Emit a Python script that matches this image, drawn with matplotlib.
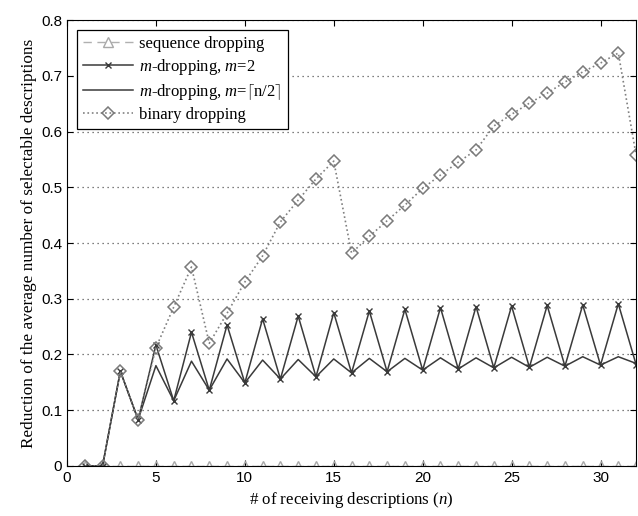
import numpy as np
import matplotlib.pyplot as plt

# ----------------------------------------------------
# Data
# ----------------------------------------------------
n = np.arange(1, 33)

seq_drop = [0.0] * 32

m2_drop = [0.0, 0.0, 0.170, 0.083, 0.217, 0.117, 0.240, 0.136, 0.253, 0.149,
           0.264, 0.156, 0.269, 0.160, 0.275, 0.167, 0.278, 0.169, 0.281, 0.172,
           0.284, 0.174, 0.286, 0.176, 0.287, 0.177, 0.288, 0.179, 0.289, 0.181,
           0.291, 0.182]

mhalf_drop = [0.0, 0.0, 0.170, 0.083, 0.180, 0.117, 0.188, 0.136, 0.192, 0.149,
              0.190, 0.156, 0.191, 0.160, 0.192, 0.167, 0.193, 0.169, 0.193, 0.172,
              0.194, 0.174, 0.194, 0.176, 0.195, 0.177, 0.195, 0.179, 0.196, 0.181,
              0.196, 0.184]

binary_drop = [0.0, 0.0, 0.170, 0.083, 0.212, 0.285, 0.357, 0.220, 0.274, 0.330,
               0.377, 0.438, 0.477, 0.515, 0.547, 0.382, 0.412, 0.440, 0.468, 0.498,
               0.522, 0.545, 0.567, 0.610, 0.631, 0.651, 0.669, 0.689, 0.707, 0.723,
               0.741, 0.558]

# ----------------------------------------------------
# Plot
# ----------------------------------------------------
plt.rcParams["mathtext.fontset"] = "custom"
plt.rcParams["mathtext.rm"] = "Liberation Serif"
plt.rcParams["mathtext.it"] = "Liberation Serif:italic"

fig = plt.figure(figsize=(6.38, 5.16), dpi=100)
ax = fig.add_axes([0.105, 0.097, 0.892, 0.864])

ax.plot(n, seq_drop, linestyle=(0, (6, 4)), color="#b0b0b0", lw=1.0,
        marker="^", markersize=7, markerfacecolor="none", markeredgecolor="#a8a8a8",
        label="sequence dropping")
ax.plot(n, m2_drop, "-", color="#3a3a3a", lw=1.1, marker="x", markersize=4.5,
        label=r"$m$-dropping, $m$=2")
ax.plot(n, mhalf_drop, "-", color="#3a3a3a", lw=1.1,
        label=r"$m$-dropping, $m$=$\lceil$n/2$\rceil$")
ax.plot(n, binary_drop, ":", color="#808080", lw=1.2, marker="D", markersize=6,
        markerfacecolor="none", markeredgecolor="#7a7a7a", markeredgewidth=1.1,
        label="binary dropping")

ax.set_xlim(0, 32)
ax.set_ylim(0, 0.8)
ax.set_xticks([0, 5, 10, 15, 20, 25, 30])
ax.set_yticks(np.arange(0, 0.81, 0.1))
ax.set_yticklabels(["0", "0.1", "0.2", "0.3", "0.4", "0.5", "0.6", "0.7", "0.8"])
ax.yaxis.grid(True, linestyle=(0, (1, 3)), color="#555555", lw=0.9)
ax.tick_params(direction="in", top=True, right=True, labelsize=11, length=4)
for lab in ax.get_xticklabels() + ax.get_yticklabels():
    lab.set_fontfamily("Liberation Sans")

ax.set_xlabel(r"# of receiving descriptions ($n$)", family="Liberation Serif", fontsize=12.2)
ax.set_ylabel("Reduction of the average number of selectable descriptions",
              family="Liberation Serif", fontsize=12.4, labelpad=3)

leg = ax.legend(loc="upper left", prop={"family": "Liberation Serif", "size": 12},
                fancybox=False, edgecolor="black", framealpha=1, handlelength=3.0,
                borderaxespad=0.6, labelspacing=0.3, handletextpad=0.4,
                borderpad=0.35)
leg.get_frame().set_linewidth(0.9)

fig.savefig("out.png", dpi=100)
